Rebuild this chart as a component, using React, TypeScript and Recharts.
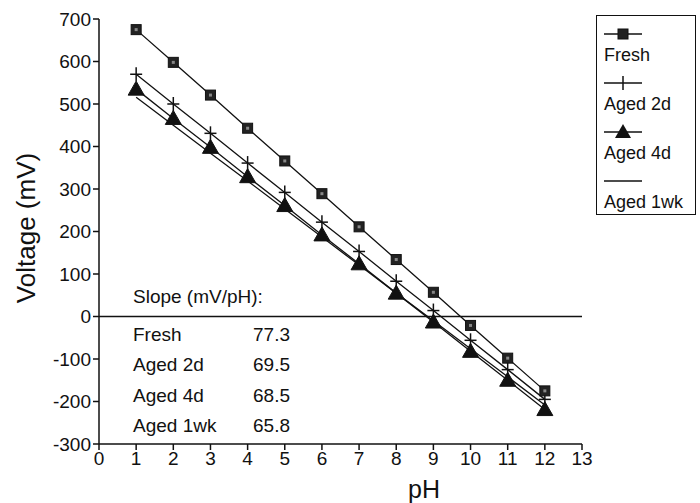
import { LineChart, Line, XAxis, YAxis, ReferenceLine } from "recharts";

const PH = [1, 2, 3, 4, 5, 6, 7, 8, 9, 10, 11, 12];
const FRESH = [675, 598, 521, 443, 366, 289, 211, 134, 57, -21, -98, -175];
const AGED_2D = [570, 500, 431, 361, 292, 222, 153, 83, 14, -56, -125, -195];
const AGED_4D = [535, 466, 398, 329, 261, 192, 124, 55, -13, -82, -150, -219];
const AGED_1WK = [516, 450, 384, 319, 253, 187, 121, 55, -10, -76, -142, -208];

const X_TICKS = [0, 1, 2, 3, 4, 5, 6, 7, 8, 9, 10, 11, 12, 13];
const Y_TICKS = [-300, -200, -100, 0, 100, 200, 300, 400, 500, 600, 700];

const SLOPES = [
  { name: "Fresh", value: "77.3" },
  { name: "Aged 2d", value: "69.5" },
  { name: "Aged 4d", value: "68.5" },
  { name: "Aged 1wk", value: "65.8" },
];

const data = PH.map((ph, i) => ({
  ph,
  fresh: FRESH[i],
  aged2d: AGED_2D[i],
  aged4d: AGED_4D[i],
  aged1wk: AGED_1WK[i],
}));

const INK = "#111";
const FONT = '"Liberation Sans", Arial, sans-serif';

const SquareDot = (props: any) => {
  const { cx, cy, index } = props;
  if (cx == null || cy == null) return <g key={index} />;
  return (
    <g key={`sq-${index}`}>
      <rect x={cx - 5} y={cy - 5} width={10} height={10} fill="#222" stroke={INK} strokeWidth={1} />
      <rect x={cx - 1.5} y={cy - 1.5} width={3} height={3} fill="#888" />
    </g>
  );
};

const CrossDot = (props: any) => {
  const { cx, cy, index } = props;
  if (cx == null || cy == null) return <g key={index} />;
  return (
    <g key={`cr-${index}`} stroke={INK} strokeWidth={1.5}>
      <line x1={cx - 6} y1={cy} x2={cx + 6} y2={cy} />
      <line x1={cx} y1={cy - 7} x2={cx} y2={cy + 7} />
    </g>
  );
};

const TriDot = (props: any) => {
  const { cx, cy, index } = props;
  if (cx == null || cy == null) return <g key={index} />;
  return (
    <polygon
      key={`tr-${index}`}
      points={`${cx},${cy - 8} ${cx - 8},${cy + 6} ${cx + 8},${cy + 6}`}
      fill={INK}
      stroke={INK}
    />
  );
};

function LegendBox() {
  const items = [
    { label: "Fresh", marker: "square" },
    { label: "Aged 2d", marker: "cross" },
    { label: "Aged 4d", marker: "tri" },
    { label: "Aged 1wk", marker: "none" },
  ];
  return (
    <div
      style={{
        position: "absolute",
        left: 596,
        top: 15,
        width: 100,
        height: 200,
        border: `1.5px solid ${INK}`,
        boxSizing: "border-box",
        background: "#fff",
        fontFamily: FONT,
        fontSize: 18,
        color: INK,
        paddingLeft: 7,
        paddingTop: 8,
      }}
    >
      {items.map((it) => (
        <div key={it.label} style={{ height: 49 }}>
          <svg width={40} height={20} style={{ display: "block" }}>
            <line x1={0} y1={10} x2={38} y2={10} stroke={INK} strokeWidth={1.5} />
            {it.marker === "square" && (
              <rect x={14} y={5} width={10} height={10} fill="#222" stroke={INK} />
            )}
            {it.marker === "cross" && (
              <line x1={19} y1={3} x2={19} y2={17} stroke={INK} strokeWidth={1.5} />
            )}
            {it.marker === "tri" && (
              <polygon points="19,2 11,16 27,16" fill={INK} />
            )}
          </svg>
          <div style={{ lineHeight: "22px" }}>{it.label}</div>
        </div>
      ))}
    </div>
  );
}

export default function App() {
  return (
    <div
      style={{
        position: "absolute",
        left: 0,
        top: 0,
        width: 700,
        height: 503,
        background: "#fff",
        fontFamily: FONT,
      }}
    >
      <LineChart
        width={700}
        height={503}
        data={data}
        margin={{ top: 19, right: 118, bottom: 0, left: 0 }}
      >
        <XAxis
          dataKey="ph"
          type="number"
          domain={[0, 13]}
          ticks={X_TICKS}
          interval={0}
          height={59}
          tickSize={6}
          stroke={INK}
          strokeWidth={1.5}
          tick={{ fill: INK, fontSize: 19, fontFamily: FONT }}
          label={{
            content: (p: any) => (
              <text
                x={424}
                y={498}
                textAnchor="middle"
                fill={INK}
                fontSize={25}
                fontFamily={FONT}
              >
                pH
              </text>
            ),
          }}
        />
        <XAxis
          xAxisId="top"
          orientation="top"
          dataKey="ph"
          type="number"
          domain={[0, 13]}
          height={0}
          tick={false}
          tickLine={false}
          stroke={INK}
          strokeWidth={1.5}
        />
        <YAxis
          type="number"
          domain={[-300, 700]}
          ticks={Y_TICKS}
          interval={0}
          width={99}
          tickSize={6}
          stroke={INK}
          strokeWidth={1.5}
          tick={{ fill: INK, fontSize: 19, fontFamily: FONT }}
          label={{
            content: (p: any) => (
              <text
                x={35}
                y={228}
                transform="rotate(-90 35 228)"
                textAnchor="middle"
                fill={INK}
                fontSize={26}
                fontFamily={FONT}
              >
                Voltage (mV)
              </text>
            ),
          }}
        />
        <YAxis
          yAxisId="right"
          orientation="right"
          domain={[-300, 700]}
          width={0}
          tick={false}
          tickLine={false}
          stroke={INK}
          strokeWidth={1.5}
        />
        <ReferenceLine y={0} stroke={INK} strokeWidth={1.5} />
        <Line
          dataKey="aged1wk"
          stroke={INK}
          strokeWidth={1.3}
          dot={false}
          isAnimationActive={false}
        />
        <Line
          dataKey="aged4d"
          stroke={INK}
          strokeWidth={1.3}
          dot={TriDot}
          isAnimationActive={false}
        />
        <Line
          dataKey="aged2d"
          stroke={INK}
          strokeWidth={1.3}
          dot={CrossDot}
          isAnimationActive={false}
        />
        <Line
          dataKey="fresh"
          stroke={INK}
          strokeWidth={1.3}
          dot={SquareDot}
          isAnimationActive={false}
        />
      </LineChart>

      <div
        style={{
          position: "absolute",
          left: 133,
          top: 286,
          fontSize: 19,
          color: INK,
          whiteSpace: "nowrap",
        }}
      >
        Slope (mV/pH):
      </div>
      {SLOPES.map((s, i) => (
        <div
          key={s.name}
          style={{
            position: "absolute",
            left: 133,
            top: 324 + i * 30.3,
            fontSize: 19,
            color: INK,
            whiteSpace: "nowrap",
          }}
        >
          <span style={{ display: "inline-block", width: 120 }}>{s.name}</span>
          <span>{s.value}</span>
        </div>
      ))}

      <LegendBox />
    </div>
  );
}
